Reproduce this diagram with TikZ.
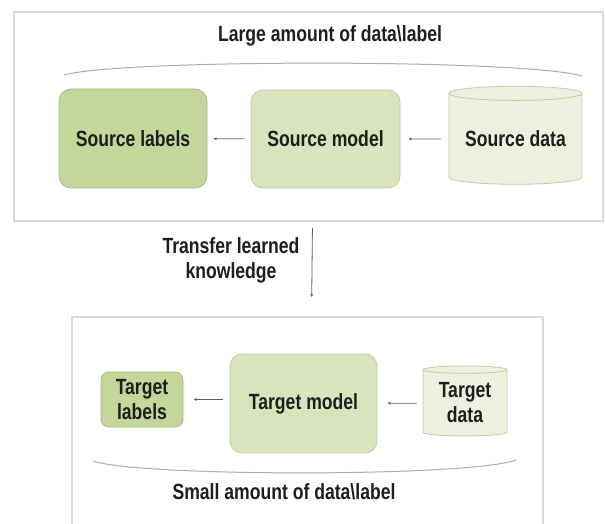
\documentclass[tikz,border=0pt]{standalone}
\usepackage{fontspec}
\setmainfont[FakeStretch=0.8]{Liberation Sans}
\usepackage{xcolor}
\usepackage{tikz}
\usetikzlibrary{calc,arrows.meta,positioning,shapes.geometric}
\definecolor{greendk}{HTML}{C4D79B}
\definecolor{greenmd}{HTML}{D8E4BC}
\definecolor{greenlt}{HTML}{EBF1DE}
\definecolor{edgedk}{HTML}{A8BC84}
\definecolor{edgelt}{HTML}{BFCDA3}
\definecolor{framex}{HTML}{D9D9D9}
\definecolor{inkx}{HTML}{1E1E1E}
\tikzset{
  ar/.style={-{Latex[length=3pt,width=3pt]},gray!75!black,line width=0.8pt},
  box/.style={draw=edgelt,line width=0.8pt,rounded corners=12pt,fill=greenmd,align=center,text=inkx,inner sep=0pt},
  db/.style={cylinder,shape border rotate=90,aspect=0.14,draw=edgelt,line width=0.8pt,fill=greenlt,align=center,text=inkx,inner sep=0pt},
  frm/.style={draw=framex,line width=1.5pt,fill=white,inner sep=0pt},
  lbl/.style={text=inkx,align=center},
  arcx/.style={gray!65,line width=1pt}
}

\begin{document}
\begin{tikzpicture}[x=1pt,y=-1pt,font=\fontsize{22}{25}\selectfont\bfseries]
\clip (0,0) rectangle (605,524);
\fill[white] (0,0) rectangle (605,524);
% frames
\node[frm,minimum width=589pt,minimum height=209pt] (srcbox) at (308.5,116.5) {};
\node[frm,minimum width=471pt,minimum height=243pt] (tgtbox) at (307.5,438.5) {};
% source side
\node[lbl] (srctitle) at (330,36) {Large amount of data\textbackslash label};
\draw[arcx] (64,75) .. controls (120,59) and (525,59) .. (582,76);
\node[box,fill=greendk,draw=edgedk,minimum width=148pt,minimum height=99pt] (sl) at (133,138.5) {Source labels};
\node[box,minimum width=149pt,minimum height=98pt] (sm) at (325.5,139) {Source model};
\node[db,minimum width=133pt,minimum height=98pt] (sd) at (515.5,139) {Source data};
\draw[ar,shorten <=8pt,shorten >=8pt] (sd) -- (sm);
\draw[ar,shorten <=6pt,shorten >=6pt] (sm) -- (sl);
% transfer
\node[lbl] (xfer) at (231,260) {Transfer learned\\knowledge};
\draw[ar,shorten <=6pt,shorten >=19pt] ([xshift=4pt]srcbox.south) -- ([xshift=4pt]tgtbox.north);
% target side
\node[box,fill=greendk,draw=edgedk,rounded corners=8pt,minimum width=82pt,minimum height=55pt] (tl) at (142,399.5) {Target\\labels};
\node[box,minimum width=147pt,minimum height=99pt] (tm) at (303.5,403.5) {Target model};
\node[db,minimum width=84pt,minimum height=70pt] (td) at (465,403) {Target\\data};
\draw[ar,shorten <=6pt,shorten >=10pt] (td) -- (tm);
\draw[ar,shorten <=7pt,shorten >=10pt] (tm.west |- tl.east) -- (tl.east);
\draw[arcx] (93,461) .. controls (140,477) and (470,477) .. (516,460);
\node[lbl] (tgttitle) at (284,492) {Small amount of data\textbackslash label};
\end{tikzpicture}
\end{document}
